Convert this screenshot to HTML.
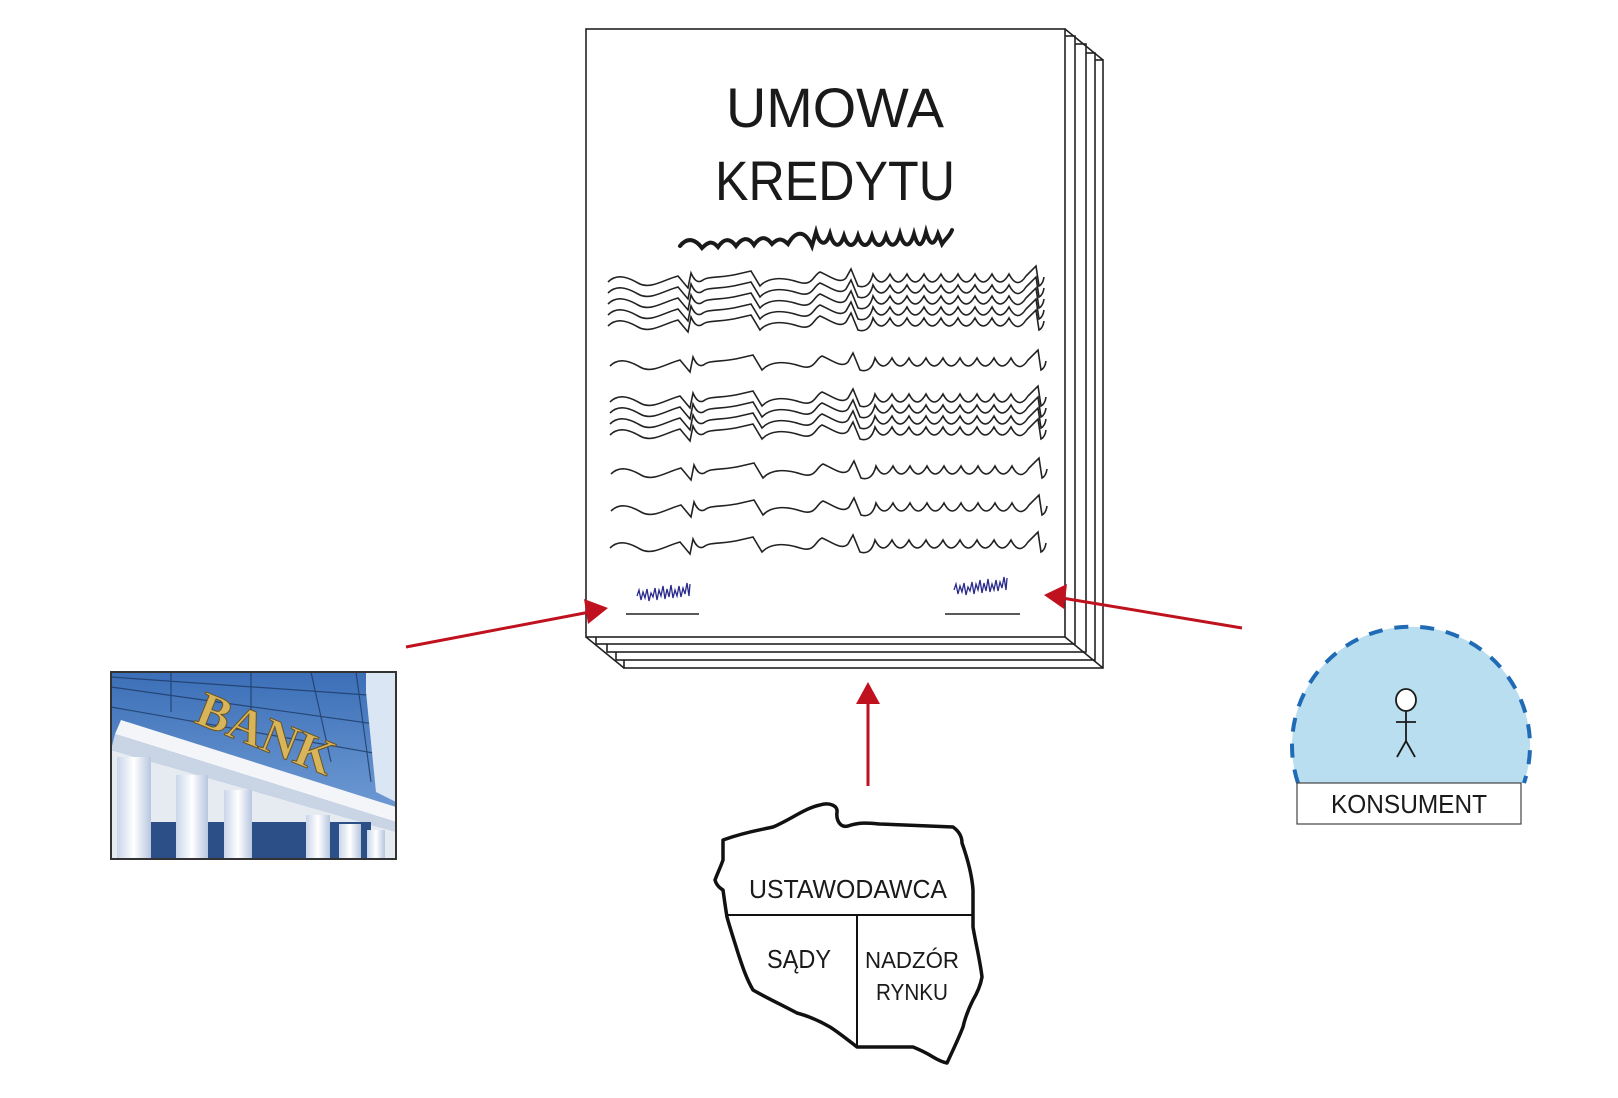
<!DOCTYPE html>
<html><head><meta charset="utf-8"><style>
html,body{margin:0;padding:0;background:#fff;}
svg{display:block;font-family:"Liberation Sans",sans-serif;}
</style></head><body>
<svg width="1618" height="1098" viewBox="0 0 1618 1098" xmlns="http://www.w3.org/2000/svg">
<defs>
<path id="sq" fill="none" stroke="#222" stroke-width="1.6" d="M0,2 C8,-6 18,-4 30,3 S55,0 70,-4 L80,8 L83,-7 C86,0 90,4 95,0 S115,-2 130,-6 L143,-9 L152,6 C160,-3 175,-3 190,2 S205,-5 212,-8 C220,-5 232,5 238,-2 L243,-11 L250,6 C256,8 262,6 265,-6 Q273,10 282,-6 Q290,10 299,-6 Q307,10 316,-6 Q324,10 333,-6 Q341,10 350,-6 Q358,10 367,-6 Q375,10 384,-6 Q392,10 401,-6 Q409,10 418,-4 L428,-14 L431,6 Q435,4 436,-3"/>
<linearGradient id="sky" x1="0" y1="0" x2="0" y2="1"><stop offset="0" stop-color="#3c6fb8"/><stop offset="1" stop-color="#7fa9dc"/></linearGradient>
<linearGradient id="col" x1="0" y1="0" x2="1" y2="0"><stop offset="0" stop-color="#c9d6ea"/><stop offset="0.5" stop-color="#ffffff"/><stop offset="1" stop-color="#b7c6df"/></linearGradient>
</defs>

<g fill="#fff" stroke="#222" stroke-width="1.6">
<rect x="624" y="60" width="479" height="608"/>
<rect x="616" y="53" width="479" height="607"/>
<rect x="607" y="44" width="479" height="608"/>
<rect x="596" y="36" width="479" height="608"/>
<rect x="586" y="29" width="479" height="608"/>
<line x1="1065" y1="29" x2="1103" y2="60"/>
<line x1="586" y1="637" x2="624" y2="668"/>
<line x1="1065" y1="637" x2="1103" y2="668"/>
</g>

<text x="835" y="127" font-size="56" text-anchor="middle" fill="#1a1a1a" textLength="218" lengthAdjust="spacingAndGlyphs">UMOWA</text>
<text x="835" y="200" font-size="56" text-anchor="middle" fill="#1a1a1a" textLength="240" lengthAdjust="spacingAndGlyphs">KREDYTU</text>

<path fill="none" stroke="#1a1a1a" stroke-width="4" stroke-linecap="round" d="M680,246 C688,236 696,240 702,248 C708,242 712,240 718,247 C724,238 730,238 736,246 C742,238 748,236 754,245 C760,236 766,236 772,244 C778,238 782,238 788,244 C796,230 805,230 812,246 L816,232 C820,246 826,246 830,234 C834,248 840,248 844,236 C848,248 854,248 858,236 C862,248 868,248 872,236 C876,248 882,248 886,236 C890,248 896,248 900,234 C904,248 910,248 914,234 C918,248 922,248 926,232 C930,246 934,246 938,234 L942,244 C946,238 950,236 952,230"/>

<g>
<use href="#sq" x="608" y="280"/>
<use href="#sq" x="608" y="291"/>
<use href="#sq" x="608" y="302"/>
<use href="#sq" x="608" y="313"/>
<use href="#sq" x="608" y="324"/>
<use href="#sq" x="610" y="364"/>
<use href="#sq" x="610" y="400"/>
<use href="#sq" x="610" y="411"/>
<use href="#sq" x="610" y="422"/>
<use href="#sq" x="610" y="433"/>
<use href="#sq" x="611" y="472"/>
<use href="#sq" x="611" y="509"/>
<use href="#sq" x="610" y="546"/>
</g>

<g fill="none" stroke="#2a2a8c" stroke-width="1.3">
<path d="M637,596 L639,590 L641,600 L643,592 L645,598 L647,589 L649,601 L651,593 L653,597 L655,588 L657,600 L659,590 L661,596 L663,586 L665,599 L667,589 L669,597 L671,585 L673,598 L675,590 L677,596 L679,586 L681,597 L683,588 L685,594 L687,583 L689,596 L690,584"/>
<path d="M954,590 L956,584 L958,594 L960,586 L962,592 L964,583 L966,595 L968,587 L970,591 L972,582 L974,594 L976,584 L978,590 L980,580 L982,593 L984,583 L986,591 L988,579 L990,592 L992,584 L994,590 L996,580 L998,591 L1000,582 L1002,588 L1004,577 L1006,590 L1007,578"/>
</g>
<g stroke="#222" stroke-width="1.6">
<line x1="626" y1="614" x2="699" y2="614"/>
<line x1="945" y1="614" x2="1020" y2="614"/>
</g>

<g stroke="#c0111f" stroke-width="3" fill="#c0111f">
<line x1="406" y1="647" x2="590" y2="612"/>
<polygon points="608,608 584,599 588,624" stroke="none"/>
<line x1="1242" y1="628" x2="1062" y2="598"/>
<polygon points="1044,595 1067,584 1064,609" stroke="none"/>
<line x1="868" y1="786" x2="868" y2="700"/>
<polygon points="868,682 856,704 880,704" stroke="none"/>
</g>

<!-- bank -->
<g transform="translate(111,672)">
<rect x="0" y="0" width="285" height="187" fill="url(#sky)"/>
<g stroke="#1d3a66" stroke-width="1.2" opacity="0.8">
<line x1="0" y1="15" x2="285" y2="55"/><line x1="0" y1="35" x2="285" y2="85"/><line x1="0" y1="5" x2="285" y2="25"/>
<line x1="60" y1="0" x2="60" y2="40"/><line x1="140" y1="0" x2="140" y2="60"/><line x1="200" y1="0" x2="220" y2="90"/><line x1="245" y1="0" x2="260" y2="110"/>
</g>
<polygon points="255,0 285,0 285,130 265,120 255,20" fill="#dbe6f5"/>
<polygon points="10,48 285,135 285,150 4,62" fill="#f3f5f8"/>
<polygon points="4,62 285,150 285,160 0,78" fill="#c9d4e4"/>
<polygon points="0,78 285,160 285,187 0,187" fill="#e6ebf2"/>
<rect x="30" y="150" width="230" height="37" fill="#2b4f86"/>
<g fill="url(#col)">
<rect x="6" y="85" width="34" height="102"/>
<rect x="65" y="103" width="32" height="84"/>
<rect x="113" y="118" width="28" height="69"/>
<rect x="195" y="143" width="24" height="44"/>
<rect x="228" y="152" width="22" height="35"/>
<rect x="256" y="158" width="18" height="29"/>
</g>
<text x="82" y="50" font-size="50" font-weight="bold" fill="#d8b55a" stroke="#6b5420" stroke-width="1" transform="rotate(22 82 50)" font-family="Liberation Serif,serif">BANK</text>
<rect x="0" y="0" width="285" height="187" fill="none" stroke="#333" stroke-width="2"/>
</g>

<!-- konsument -->
<path d="M1298,783 A119,119 0 1 1 1524,783 Z" fill="#b9def0"/>
<path d="M1298,783 A119,119 0 1 1 1524,783" fill="none" stroke="#1f6bb5" stroke-width="4" stroke-dasharray="14,12"/>
<rect x="1297" y="783" width="224" height="41" fill="#fff" stroke="#444" stroke-width="1.2"/>
<text x="1409" y="813" font-size="26" text-anchor="middle" fill="#1a1a1a" textLength="156" lengthAdjust="spacingAndGlyphs">KONSUMENT</text>
<g fill="#fff" stroke="#1a1a1a" stroke-width="1.8">
<ellipse cx="1406" cy="700" rx="10" ry="11"/>
<line x1="1406" y1="711" x2="1406" y2="743"/>
<line x1="1396" y1="722" x2="1416" y2="722"/>
<line x1="1406" y1="741" x2="1397" y2="757"/>
<line x1="1406" y1="741" x2="1415" y2="757"/>
</g>

<!-- map -->
<path fill="#fff" stroke="#111" stroke-width="3.5" stroke-linejoin="round" d="M723,840 C745,832 760,830 773,827 C790,820 805,808 820,805 C830,802 838,806 837,812 C836,820 840,828 848,826 C860,822 868,823 880,824 L953,827 C960,832 962,838 962,843 C968,860 972,875 973,890 L973,927 C976,945 980,960 982,977 C980,988 976,995 973,1000 C968,1010 965,1018 963,1027 C958,1040 952,1052 947,1063 C942,1062 938,1060 933,1057 C925,1052 918,1049 913,1047 L887,1047 L857,1047 C848,1040 838,1032 830,1027 C818,1020 808,1016 797,1013 C780,1004 765,997 753,990 C746,978 742,965 738,953 C734,940 730,928 727,917 C725,905 724,897 723,890 C718,887 716,884 715,880 C718,872 721,866 723,860 Z"/>
<g stroke="#111" stroke-width="2">
<line x1="727" y1="915" x2="973" y2="915"/>
<line x1="857" y1="915" x2="857" y2="1047"/>
</g>
<g fill="#1a1a1a" text-anchor="middle">
<text x="848" y="898" font-size="26" textLength="198" lengthAdjust="spacingAndGlyphs">USTAWODAWCA</text>
<text x="799" y="968" font-size="26" textLength="64" lengthAdjust="spacingAndGlyphs">SĄDY</text>
<text x="912" y="968" font-size="23" textLength="94" lengthAdjust="spacingAndGlyphs">NADZÓR</text>
<text x="912" y="1000" font-size="23" textLength="72" lengthAdjust="spacingAndGlyphs">RYNKU</text>
</g>
</svg>
</body></html>
